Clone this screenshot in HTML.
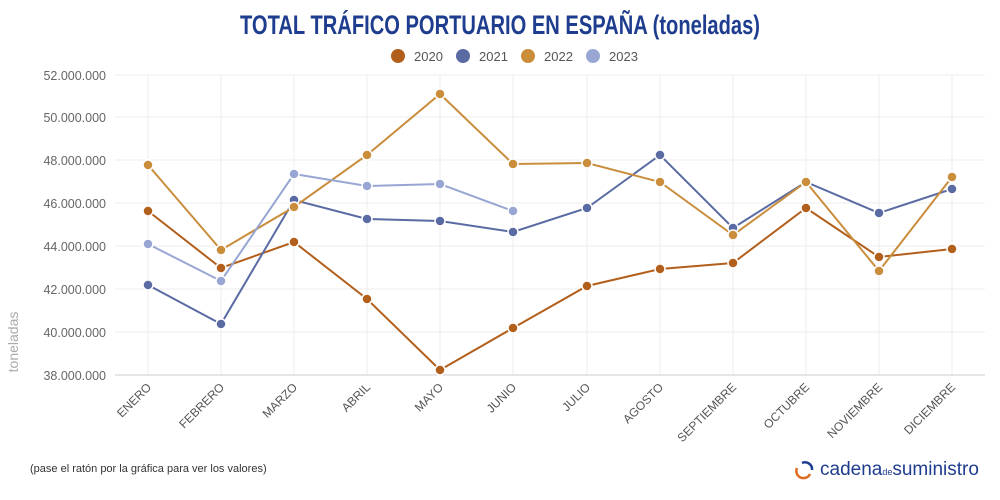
<!DOCTYPE html>
<html><head><meta charset="utf-8"><style>
body{margin:0;background:#fff;}
svg{display:block;font-family:"Liberation Sans",sans-serif;}
</style></head><body>
<svg width="1000" height="500" viewBox="0 0 1000 500">
<rect width="1000" height="500" fill="#fff"/>
<text x="500" y="34" text-anchor="middle" font-size="27" font-weight="bold" fill="#1f3d8f" font-family="Liberation Sans Narrow, Liberation Sans, sans-serif" textLength="520" lengthAdjust="spacingAndGlyphs">TOTAL TRÁFICO PORTUARIO EN ESPAÑA (toneladas)</text>
<g font-size="13" fill="#555">
<circle cx="398" cy="56" r="7" fill="#b35f1c"/><text x="414" y="61">2020</text>
<circle cx="463" cy="56" r="7" fill="#5a6ba3"/><text x="479" y="61">2021</text>
<circle cx="528" cy="56" r="7" fill="#c98d3c"/><text x="544" y="61">2022</text>
<circle cx="593" cy="56" r="7" fill="#98a6d3"/><text x="609" y="61">2023</text>
</g>
<g stroke="#ececec" stroke-width="1">
<line x1="115" x2="985" y1="75" y2="75"/><line x1="115" x2="985" y1="117" y2="117"/><line x1="115" x2="985" y1="160" y2="160"/><line x1="115" x2="985" y1="203" y2="203"/><line x1="115" x2="985" y1="246" y2="246"/><line x1="115" x2="985" y1="289" y2="289"/><line x1="115" x2="985" y1="332" y2="332"/>
<line x1="148" x2="148" y1="75" y2="375"/><line x1="221" x2="221" y1="75" y2="375"/><line x1="294" x2="294" y1="75" y2="375"/><line x1="367" x2="367" y1="75" y2="375"/><line x1="440" x2="440" y1="75" y2="375"/><line x1="513" x2="513" y1="75" y2="375"/><line x1="587" x2="587" y1="75" y2="375"/><line x1="660" x2="660" y1="75" y2="375"/><line x1="733" x2="733" y1="75" y2="375"/><line x1="806" x2="806" y1="75" y2="375"/><line x1="879" x2="879" y1="75" y2="375"/><line x1="952" x2="952" y1="75" y2="375"/>
</g>
<line x1="115" x2="985" y1="375" y2="375" stroke="#ccc"/>
<g font-size="12.5" fill="#666" text-anchor="end">
<text x="106" y="80">52.000.000</text><text x="106" y="122">50.000.000</text><text x="106" y="165">48.000.000</text><text x="106" y="208">46.000.000</text><text x="106" y="251">44.000.000</text><text x="106" y="294">42.000.000</text><text x="106" y="337">40.000.000</text><text x="106" y="380">38.000.000</text>
</g>
<text transform="translate(18,342) rotate(-90)" font-size="14" fill="#aaa" text-anchor="middle">toneladas</text>
<g font-size="12" fill="#555" text-anchor="end">
<text transform="translate(152,388) rotate(-45)">ENERO</text><text transform="translate(225,388) rotate(-45)">FEBRERO</text><text transform="translate(298,388) rotate(-45)">MARZO</text><text transform="translate(371,388) rotate(-45)">ABRIL</text><text transform="translate(444,388) rotate(-45)">MAYO</text><text transform="translate(517,388) rotate(-45)">JUNIO</text><text transform="translate(591,388) rotate(-45)">JULIO</text><text transform="translate(664,388) rotate(-45)">AGOSTO</text><text transform="translate(737,388) rotate(-45)">SEPTIEMBRE</text><text transform="translate(810,388) rotate(-45)">OCTUBRE</text><text transform="translate(883,388) rotate(-45)">NOVIEMBRE</text><text transform="translate(956,388) rotate(-45)">DICIEMBRE</text>
</g>
<g fill="none" stroke-width="2">
<polyline stroke="#b35f1c" points="148,211 221,268 294,242 367,299 440,370 513,328 587,286 660,269 733,263 806,208 879,257 952,249"/>
<polyline stroke="#5a6ba3" points="148,285 221,324 294,200 367,219 440,221 513,232 587,208 660,155 733,228 806,182 879,213 952,189"/>
<polyline stroke="#c98d3c" points="148,165 221,250 294,207 367,155 440,94 513,164 587,163 660,182 733,235 806,182 879,271 952,177"/>
<polyline stroke="#98a6d3" points="148,244 221,281 294,174 367,186 440,184 513,211"/>
</g>
<g stroke="#fff" stroke-width="1.5">
<g fill="#b35f1c"><circle cx="148" cy="211" r="5"/><circle cx="221" cy="268" r="5"/><circle cx="294" cy="242" r="5"/><circle cx="367" cy="299" r="5"/><circle cx="440" cy="370" r="5"/><circle cx="513" cy="328" r="5"/><circle cx="587" cy="286" r="5"/><circle cx="660" cy="269" r="5"/><circle cx="733" cy="263" r="5"/><circle cx="806" cy="208" r="5"/><circle cx="879" cy="257" r="5"/><circle cx="952" cy="249" r="5"/></g>
<g fill="#5a6ba3"><circle cx="148" cy="285" r="5"/><circle cx="221" cy="324" r="5"/><circle cx="294" cy="200" r="5"/><circle cx="367" cy="219" r="5"/><circle cx="440" cy="221" r="5"/><circle cx="513" cy="232" r="5"/><circle cx="587" cy="208" r="5"/><circle cx="660" cy="155" r="5"/><circle cx="733" cy="228" r="5"/><circle cx="806" cy="182" r="5"/><circle cx="879" cy="213" r="5"/><circle cx="952" cy="189" r="5"/></g>
<g fill="#c98d3c"><circle cx="148" cy="165" r="5"/><circle cx="221" cy="250" r="5"/><circle cx="294" cy="207" r="5"/><circle cx="367" cy="155" r="5"/><circle cx="440" cy="94" r="5"/><circle cx="513" cy="164" r="5"/><circle cx="587" cy="163" r="5"/><circle cx="660" cy="182" r="5"/><circle cx="733" cy="235" r="5"/><circle cx="806" cy="182" r="5"/><circle cx="879" cy="271" r="5"/><circle cx="952" cy="177" r="5"/></g>
<g fill="#98a6d3"><circle cx="148" cy="244" r="5"/><circle cx="221" cy="281" r="5"/><circle cx="294" cy="174" r="5"/><circle cx="367" cy="186" r="5"/><circle cx="440" cy="184" r="5"/><circle cx="513" cy="211" r="5"/></g>
</g>
<text x="30" y="472" font-size="11" fill="#333">(pase el ratón por la gráfica para ver los valores)</text>
<path d="M802 463 A7 7 0 0 1 812 470" fill="none" stroke="#1f3d8f" stroke-width="2.5"/>
<path d="M810 474 A7 7 0 0 1 797 468" fill="none" stroke="#e06a1f" stroke-width="2.5"/>
<text x="820" y="475" font-size="19" fill="#1f3d8f">cadena<tspan font-size="9">de</tspan>suministro</text>
</svg>
</body></html>
